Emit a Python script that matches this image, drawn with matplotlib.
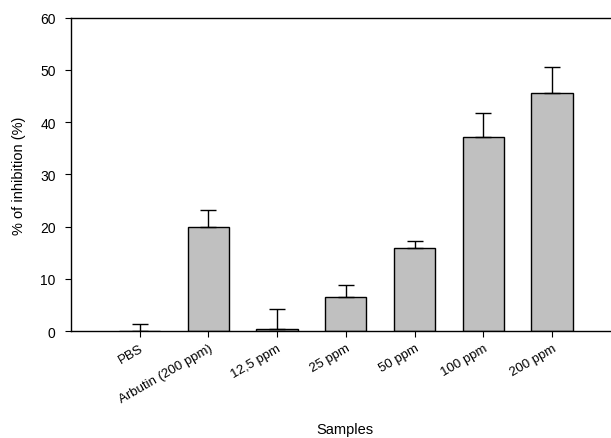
import matplotlib
matplotlib.use("Agg")
import matplotlib.pyplot as plt
import numpy as np

plt.rcParams['font.family'] = ['Liberation Sans', 'DejaVu Sans']

samples = ['PBS', 'Arbutin (200 ppm)', '12,5 ppm', '25 ppm', '50 ppm', '100 ppm', '200 ppm']
inhibition = [0.0, 19.9, 0.3, 6.6, 15.8, 37.2, 45.5]
err_up = [1.3, 3.3, 4.0, 2.2, 1.4, 4.5, 5.0]

fig = plt.figure(figsize=(6.11, 4.39), dpi=100)
ax = fig.add_axes([71/611, 1 - 332/439, 1 - 71/611, (332 - 18.7)/439])

x = np.arange(len(samples))
ax.bar(x, inhibition, width=0.6, color='#c0c0c0', edgecolor='black', linewidth=1.0, zorder=2)
ax.errorbar(x, inhibition, yerr=[np.zeros(len(x)), err_up], fmt='none',
            ecolor='black', elinewidth=1.0, capsize=5.5, capthick=1.0, zorder=3)

ax.set_xlim(-1.0, 6.86)
ax.set_ylim(0, 60)
ax.set_yticks(range(0, 61, 10))
ax.set_xticks(x)
ax.set_xticklabels(samples, rotation=30, ha='right', rotation_mode='anchor', fontsize=9.5)
ax.tick_params(axis='y', labelsize=10, length=4, direction='out', pad=7)
ax.tick_params(axis='x', length=4, direction='out', pad=4)
ax.spines['right'].set_visible(False)
for s in ['left', 'bottom', 'top']:
    ax.spines[s].set_linewidth(1.0)

ax.set_ylabel('% of inhibition (%)', fontsize=10.5, labelpad=10)
fig.text(345/611, 1 - 430/439, 'Samples', ha='center', va='center', fontsize=10.5)

fig.savefig('out.png', dpi=100)
